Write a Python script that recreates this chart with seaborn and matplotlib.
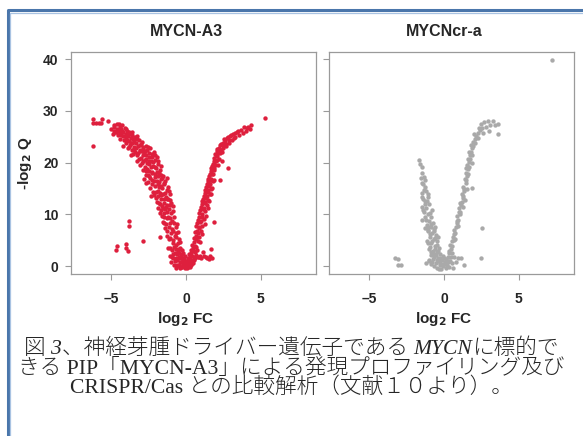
import numpy as np
import matplotlib
matplotlib.use("Agg")
import matplotlib.pyplot as plt
import seaborn as sns
import pandas as pd
from matplotlib.lines import Line2D

sns.set_style("ticks")
plt.rcParams["font.family"] = ["Liberation Sans", "DejaVu Sans"]

# MYCN-A3 (log2 FC, -log2 Q)
a3_left = [
    (-5.0, 26.5), (-4.9, 25.6), (-4.85, 26.9), (-4.8, 26.2), (-4.8, 27.2), (-4.7, 25.9), (-4.65, 26.6),
    (-4.6, 27.5), (-4.55, 25.3), (-4.5, 26.1), (-4.45, 27.0), (-4.4, 24.6), (-4.4, 25.8), (-4.35, 26.6),
    (-4.3, 27.3), (-4.25, 25.2), (-4.2, 26.0), (-4.2, 23.2), (-4.15, 24.3), (-4.1, 26.8), (-4.05, 25.5),
    (-4.0, 23.9), (-4.0, 24.9), (-3.95, 26.1), (-3.9, 22.8), (-3.9, 25.2), (-3.85, 24.2), (-3.8, 26.0),
    (-3.75, 23.5), (-3.7, 24.8), (-3.7, 21.5), (-3.65, 22.4), (-3.6, 25.4), (-3.6, 23.9), (-3.55, 21.7),
    (-3.5, 24.5), (-3.45, 23.1), (-3.4, 25.0), (-3.4, 22.0), (-3.35, 23.8), (-3.3, 24.6), (-3.3, 20.4),
    (-3.25, 21.4), (-3.2, 23.2), (-3.15, 24.3), (-3.1, 22.5), (-3.05, 19.6), (-3.0, 23.7), (-3.0, 21.0),
    (-2.95, 22.3), (-2.9, 18.6), (-2.9, 23.0), (-2.85, 20.4), (-2.8, 21.8), (-2.8, 16.8), (-2.75, 19.2),
    (-2.7, 23.3), (-2.7, 17.6), (-2.65, 20.8), (-2.65, 16.0), (-2.6, 22.4), (-2.6, 18.8), (-2.55, 16.2),
    (-2.5, 21.2), (-2.5, 19.8), (-2.45, 17.4), (-2.4, 22.8), (-2.4, 15.2), (-2.35, 20.3), (-2.35, 13.5),
    (-2.3, 18.3), (-2.3, 21.6), (-2.25, 16.7), (-2.2, 19.4), (-2.2, 14.4), (-2.15, 22.0), (-2.1, 17.8),
    (-2.1, 20.6), (-2.05, 15.6), (-2.0, 18.9), (-2.0, 13.1), (-1.95, 21.1), (-1.95, 16.4), (-1.9, 14.6),
    (-1.9, 19.7), (-1.85, 17.4), (-1.85, 11.2), (-1.8, 12.2), (-1.8, 15.4), (-1.75, 18.6), (-1.75, 10.3),
    (-1.7, 13.8), (-1.7, 16.8), (-1.65, 19.4), (-1.6, 11.6), (-1.6, 15.1), (-1.55, 8.6), (-1.55, 17.5),
    (-1.5, 13.0), (-1.5, 10.2), (-1.45, 16.0), (-1.4, 7.4), (-1.4, 14.2), (-1.35, 11.4), (-1.3, 17.0),
    (-1.3, 5.8), (-1.25, 9.3), (-1.25, 12.9), (-1.2, 15.4), (-1.2, 3.6), (-1.15, 7.6), (-1.15, 11.0),
    (-1.1, 13.9), (-1.1, 1.9), (-1.05, 5.4), (-1.05, 9.4), (-1.0, 12.3), (-1.0, 0.8), (-0.95, 7.1),
    (-0.95, 3.2), (-0.9, 10.6), (-0.9, 1.6), (-0.85, 5.0), (-0.8, 8.4), (-0.8, 0.3), (-0.75, 2.6),
    (-0.7, 6.5), (-0.7, -0.3), (-0.65, 4.2), (-0.6, 1.2), (-0.6, 8.2), (-0.55, 2.9), (-0.5, 0.2),
    (-0.5, 5.3), (-0.45, 1.7), (-0.4, -0.4), (-0.4, 3.6), (-0.35, 0.8), (-0.3, 2.3), (-0.25, -0.1),
    (-0.2, 1.3), (-0.15, 0.4), (-0.1, 2.0), (-0.05, -0.2),
    (-4.75, 26.0), (-4.6, 26.2), (-4.5, 27.4), (-4.35, 25.3), (-4.3, 26.1), (-4.1, 25.1), (-4.05, 26.5),
    (-3.95, 24.4), (-3.85, 25.5), (-3.8, 23.0), (-3.7, 23.9), (-3.65, 25.9), (-3.55, 24.6), (-3.5, 22.6),
    (-3.45, 24.0), (-3.35, 22.8), (-3.25, 25.1), (-3.2, 21.9), (-3.15, 20.7), (-3.1, 23.5), (-3.05, 22.2),
    (-2.95, 24.1), (-2.95, 20.0), (-2.9, 21.5), (-2.85, 22.6), (-2.75, 20.6), (-2.75, 22.3), (-2.7, 18.4),
    (-2.65, 21.5), (-2.6, 20.0), (-2.55, 23.0), (-2.55, 17.6), (-2.5, 18.4), (-2.45, 21.9), (-2.45, 20.4),
    (-2.4, 17.0), (-2.35, 19.2), (-2.3, 15.8), (-2.25, 21.2), (-2.25, 18.0), (-2.2, 20.2), (-2.15, 16.4),
    (-2.15, 13.8), (-2.1, 19.2), (-2.05, 21.4), (-2.05, 17.2), (-2.0, 14.4), (-1.95, 18.2), (-1.95, 12.5),
    (-1.9, 20.4), (-1.9, 15.9), (-1.85, 13.6), (-1.8, 18.0), (-1.8, 16.2), (-1.75, 14.2), (-1.75, 12.0),
    (-1.7, 17.6), (-1.7, 10.8), (-1.65, 15.6), (-1.65, 13.0), (-1.6, 9.8), (-1.6, 17.0), (-1.55, 14.0),
    (-1.55, 11.2), (-1.5, 15.8), (-1.5, 8.4), (-1.45, 12.2), (-1.45, 9.6), (-1.4, 16.4), (-1.4, 11.0),
    (-1.35, 13.4), (-1.35, 8.2), (-1.3, 10.4), (-1.3, 14.8), (-1.25, 6.8), (-1.25, 11.8), (-1.2, 9.6),
    (-1.2, 13.0), (-1.15, 5.2), (-1.15, 14.6), (-1.1, 8.4), (-1.1, 11.8), (-1.05, 3.6), (-1.05, 12.8),
    (-1.0, 6.4), (-1.0, 10.2), (-0.95, 8.8), (-0.95, 1.8), (-0.9, 4.4), (-0.9, 11.6), (-0.85, 6.8),
    (-0.85, 2.4), (-0.8, 9.6), (-0.8, 3.8), (-0.75, 5.8), (-0.75, 1.0), (-0.7, 7.6), (-0.7, 3.4),
    (-0.65, 1.6), (-0.65, 5.6), (-0.6, 2.4), (-0.6, 0.2), (-0.55, 4.4), (-0.55, 6.6), (-0.5, 1.6),
    (-0.5, 3.4), (-0.45, 0.0), (-0.45, 2.6), (-0.4, 0.9), (-0.4, 4.6), (-0.35, 1.9), (-0.35, -0.2),
    (-0.3, 0.9), (-0.3, 3.2), (-0.25, 1.6), (-0.2, 0.2), (-0.2, 2.6), (-0.15, 1.4), (-0.1, 0.6),
    (-0.1, -0.4), (-0.05, 1.1),
]
a3_right = [
    (0.0, 0.9), (0.05, -0.3), (0.1, 1.6), (0.15, 0.2), (0.2, 2.4), (0.2, 0.9), (0.25, -0.1), (0.3, 3.1),
    (0.3, 1.3), (0.35, 0.3), (0.4, 4.2), (0.4, 2.0), (0.45, 0.7), (0.5, 5.4), (0.5, 3.0), (0.55, 1.2),
    (0.6, 6.6), (0.6, 4.0), (0.6, 1.6), (0.65, 2.2), (0.7, 7.7), (0.7, 5.3), (0.75, 3.2), (0.8, 9.0),
    (0.8, 6.4), (0.8, 1.8), (0.85, 1.7), (0.9, 10.2), (0.9, 7.6), (0.95, 4.6), (1.0, 11.4), (1.0, 8.8),
    (1.0, 1.5), (1.05, 6.2), (1.1, 12.6), (1.1, 10.0), (1.15, 2.8), (1.2, 13.6), (1.2, 11.2), (1.2, 1.9),
    (1.25, 8.2), (1.3, 14.8), (1.3, 12.4), (1.35, 9.8), (1.4, 15.8), (1.4, 13.6), (1.4, 1.6), (1.45, 11.2),
    (1.5, 16.8), (1.5, 14.7), (1.55, 12.6), (1.6, 17.9), (1.6, 15.9), (1.6, 16.7), (1.6, 1.9), (1.65, 13.9),
    (1.65, 3.4), (1.7, 18.9), (1.7, 16.9), (1.75, 15.2), (1.75, 1.6), (1.8, 19.8), (1.8, 17.9), (1.85, 20.9),
    (1.85, 8.6), (1.9, 19.0), (1.9, 16.7), (1.95, 21.6), (2.0, 20.3), (2.05, 22.2), (2.1, 21.3), (2.15, 19.5),
    (2.2, 22.9), (2.25, 21.8), (2.3, 23.4), (2.3, 16.6), (2.35, 22.4), (2.4, 20.4), (2.45, 23.9), (2.5, 22.8),
    (2.6, 24.2), (2.65, 23.3), (2.75, 24.7), (2.8, 18.9), (2.85, 23.8), (2.95, 25.1), (3.05, 24.4),
    (3.15, 25.5), (3.3, 25.0), (3.4, 25.9), (3.55, 25.4), (3.7, 26.3), (3.85, 26.9), (4.0, 26.1),
    (4.15, 27.0), (4.35, 27.3), (5.3, 28.6),
    (0.05, 0.4), (0.1, -0.2), (0.15, 1.2), (0.25, 1.7), (0.3, 0.5), (0.35, 2.5), (0.4, 0.9), (0.45, 3.6),
    (0.5, 1.8), (0.55, 4.6), (0.6, 2.8), (0.65, 5.9), (0.7, 3.8), (0.75, 6.8), (0.75, 8.4), (0.8, 4.8),
    (0.85, 7.4), (0.85, 9.6), (0.9, 5.6), (0.95, 8.6), (0.95, 10.8), (1.0, 6.8), (1.05, 9.6), (1.05, 12.0),
    (1.1, 7.8), (1.15, 11.0), (1.15, 13.0), (1.2, 9.2), (1.25, 12.2), (1.25, 14.2), (1.3, 10.6),
    (1.35, 13.2), (1.35, 15.4), (1.4, 11.8), (1.45, 14.4), (1.45, 16.4), (1.5, 12.8), (1.55, 15.6),
    (1.55, 17.4), (1.6, 14.0), (1.65, 16.6), (1.65, 18.4), (1.7, 15.0), (1.75, 17.8), (1.75, 19.4),
    (1.8, 16.4), (1.85, 18.6), (1.85, 19.8), (1.9, 20.4), (1.95, 19.6), (2.0, 21.4), (2.05, 20.6),
    (2.1, 22.6), (2.15, 21.8), (2.2, 20.8), (2.25, 22.4), (2.35, 23.6), (2.4, 22.0), (2.5, 23.4),
    (2.55, 24.6), (2.7, 23.6), (2.8, 25.0), (2.9, 24.4), (3.0, 25.4), (3.2, 24.8), (3.25, 25.8),
    (3.5, 26.2), (3.8, 25.8), (4.05, 26.8), (4.3, 26.6), (0.95, 2.0), (1.35, 1.8), (1.55, 1.4),
]
a3_outliers = [
    (-6.2, 23.2), (-6.2, 28.5), (-6.2, 27.7), (-6.0, 27.7), (-5.8, 27.7), (-5.7, 27.6), (-5.6, 28.5),
    (-5.2, 28.0), (-3.8, 8.7), (-3.8, 7.8), (-2.85, 4.8), (-4.65, 3.9), (-4.7, 3.2), (-4.05, 4.3),
    (-4.0, 3.6), (-3.9, 3.0), (-1.75, 5.7),
]

# MYCNcr-a
cr_left = [
    (-1.7, 20.5), (-1.48, 19.2), (-1.5, 18.0), (-1.37, 17.3), (-1.3, 16.6), (-1.45, 16.0), (-1.26, 15.3),
    (-1.35, 14.8), (-1.5, 14.2), (-1.1, 14.0), (-1.48, 13.4), (-1.04, 13.4), (-1.3, 12.7), (-1.15, 12.6),
    (-1.0, 12.0), (-1.48, 11.5), (-1.2, 11.2), (-0.82, 10.8), (-1.35, 10.4), (-1.1, 10.0), (-0.85, 9.6),
    (-1.26, 9.5), (-1.45, 9.0), (-1.0, 8.8), (-0.75, 8.4), (-1.15, 8.0), (-0.6, 7.6), (-1.3, 7.4),
    (-0.9, 7.6), (-1.04, 7.0), (-0.65, 7.2), (-1.05, 6.8), (-0.8, 6.4), (-0.55, 6.0), (-0.38, 5.7),
    (-0.95, 5.6), (-0.7, 5.2), (-0.45, 4.8), (-1.15, 4.8), (-0.85, 4.4), (-1.04, 4.4), (-0.6, 4.0),
    (-0.35, 3.6), (-0.6, 3.4), (-1.0, 3.3), (-0.75, 3.0), (-0.5, 2.7), (-0.25, 2.4), (-0.7, 2.4),
    (-0.9, 2.1), (-0.1, 2.0), (-0.65, 1.8), (-0.4, 1.5), (-0.15, 1.2), (-1.0, 1.3), (-0.35, 1.0),
    (-1.0, 1.0), (-0.8, 0.9), (-0.55, 0.6), (-1.2, 0.6), (-0.3, 0.3), (-0.05, 0.0), (-0.45, -0.3),
    (-0.2, -0.5),
    (-1.6, 19.8), (-1.55, 17.0), (-1.42, 15.8), (-1.2, 14.6), (-1.4, 13.0), (-1.25, 12.0), (-1.4, 10.8),
    (-0.95, 10.2), (-1.2, 9.0), (-0.9, 8.2), (-1.1, 7.6), (-0.7, 6.8), (-0.95, 6.2), (-0.6, 5.4),
    (-0.8, 4.8), (-0.5, 4.2), (-0.95, 3.8), (-0.4, 3.0), (-0.85, 2.8), (-0.55, 2.2), (-0.3, 1.6),
    (-0.75, 1.4), (-0.5, 1.2), (-0.9, 0.4), (-0.65, 0.0), (-0.25, 0.7), (-0.1, 0.4), (-0.35, -0.6),
]
cr_right = [
    (0.1, 0.5), (0.25, 1.8), (0.3, 2.6), (0.45, 3.4), (0.4, 4.2), (0.55, 4.8), (0.6, 5.6), (0.7, 6.3),
    (0.65, 7.0), (0.8, 7.6), (0.85, 8.4), (0.95, 9.0), (0.9, 9.8), (1.05, 10.4), (1.0, 11.2), (1.15, 11.8),
    (1.2, 12.5), (1.3, 13.2), (1.2, 13.9), (1.35, 14.6), (1.3, 15.3), (1.45, 16.0), (1.4, 16.8),
    (1.55, 17.4), (1.5, 18.1), (1.6, 18.8), (1.55, 19.5), (1.7, 20.1), (1.6, 20.8), (1.75, 21.4),
    (1.7, 22.1), (1.85, 22.8), (1.8, 23.4), (1.95, 24.0), (2.05, 24.6), (2.15, 25.1), (2.3, 25.7),
    (2.4, 26.3), (0.5, 2.5), (0.75, 5.2), (0.95, 7.8), (1.1, 10.0), (1.25, 11.5), (1.4, 12.8),
    (1.55, 15.0), (1.45, 19.0), (1.88, 15.2), (1.85, 20.0), (1.9, 21.5), (0.0, 1.5), (0.2, 0.2),
    (0.35, 1.1), (0.6, -0.3), (0.45, 1.8),
    (0.35, 3.0), (0.5, 4.0), (0.65, 5.0), (0.75, 6.5), (0.9, 8.8), (1.0, 10.5), (1.1, 12.2), (1.25, 13.5),
    (1.35, 15.0), (1.5, 16.6), (1.6, 17.8), (1.65, 19.2), (1.75, 20.8), (1.8, 22.0), (1.95, 23.2),
    (2.1, 23.9), (2.25, 24.8), (2.0, 25.5), (2.35, 26.8), (0.05, 0.8), (0.15, 1.4), (0.25, 0.9),
    (0.3, -0.1), (0.5, 0.6), (0.8, 0.9), (0.1, -0.4),
    (2.45, 27.4), (2.55, 26.8), (2.7, 27.9), (2.8, 26.9), (2.95, 28.1), (3.1, 27.3), (3.25, 28.0),
    (3.4, 27.2), (3.6, 27.4), (3.6, 25.6), (3.0, 26.2), (2.6, 25.8),
]
cr_outliers = [
    (7.2, 39.8), (2.55, 7.4), (2.48, 1.5), (-3.25, 1.6), (-3.05, 1.4), (-3.1, 0.3), (-2.87, 0.3),
    (1.33, 0.3), (0.95, 1.5), (0.7, 1.8), (1.15, 1.6), (0.4, 1.0),
]

panels = ["MYCN-A3", "MYCNcr-a"]
colors = ["#de1f3d", "#a9a9a9"]
x_ticks = [-5, 0, 5]
y_ticks = [0, 10, 20, 30, 40]

W, H = 583, 436
fig = plt.figure(figsize=(W / 100, H / 100), dpi=100)

def px(x0, y0, x1, y1):
    return [x0 / W, 1 - y1 / H, (x1 - x0) / W, (y1 - y0) / H]

ax1 = fig.add_axes(px(71, 52, 316, 274))
ax2 = fig.add_axes(px(329, 52, 574, 274))

for ax, pts, col in [(ax1, a3_left + a3_right + a3_outliers, colors[0]),
                     (ax2, cr_left + cr_right + cr_outliers, colors[1])]:
    df = pd.DataFrame(pts, columns=["fc", "q"])
    sns.scatterplot(data=df, x="fc", y="q", ax=ax, color=col, s=10, linewidth=0)
    ax.set_xlim(-7.7, 8.7)
    ax.set_ylim(-1.5, 41.4)
    ax.set_xticks(x_ticks)
    ax.set_yticks(y_ticks)
    ax.set_xticklabels(["\u2013" + "5", "0", "5"])
    ax.set_xlabel("")
    ax.set_ylabel("")
    for sp in ax.spines.values():
        sp.set_color("#9a9a9a")
        sp.set_linewidth(0.9)
    ax.tick_params(direction="out", length=4, width=0.8, color="#9a9a9a", labelsize=10)
    ax.tick_params(axis="x", pad=9)
    ax.tick_params(axis="y", pad=5)
    for lab in ax.get_xticklabels() + ax.get_yticklabels():
        lab.set_fontweight("bold")

ax2.set_yticklabels([])

# titles and axis labels
for cx, name in [(186, panels[0]), (444, panels[1])]:
    fig.text(cx / W, 1 - 32 / H, name, ha="center", va="center", fontsize=11.5, fontweight="bold")
    fig.text(cx / W, 1 - 319 / H, r"log$_\mathbf{2}$ FC", ha="center", va="center",
             fontsize=11, fontweight="bold")
fig.text(25 / W, 1 - 163 / H, r"-log$_\mathbf{2}$ Q", ha="center", va="center",
         fontsize=11, fontweight="bold", rotation=90)

# blue frame
fig.add_artist(Line2D([8 / W, 8 / W, 1], [0, 1 - 10.5 / H, 1 - 10.5 / H],
                      color="#4a76ab", lw=2.2, transform=fig.transFigure))
fig.add_artist(Line2D([10.3 / W, 10.3 / W, 1], [0, 1 - 12.8 / H, 1 - 12.8 / H],
                      color="#a9c3e2", lw=0.9, transform=fig.transFigure))

# caption
cap_fonts = ["Liberation Serif", "Noto Sans CJK JP"]
cap_lines = [
    [("図 3", "italic"), ("、神経芽腫ドライバー遺伝子である ", "normal"), ("MYCN", "italic"), ("に標的で", "normal")],
    [("きる PIP「MYCN-A3」による発現プロファイリング及び", "normal")],
    [("CRISPR/Cas との比較解析（文献１０より）。", "normal")],
]
cap_y = [349, 369, 388]
cap_size = 15.6

renderer = fig.canvas.get_renderer()
for runs, yy in zip(cap_lines, cap_y):
    items = []
    for s, st in runs:
        t = fig.text(0, 1 - yy / H, s, fontsize=cap_size, style=st, family=cap_fonts,
                     fontweight="light", va="center", ha="left")
        items.append((t, t.get_window_extent(renderer).width))
    total = sum(w for _, w in items)
    x = W / 2 - total / 2
    for t, w in items:
        t.set_x(x / W)
        x += w

fig.savefig("out.png", dpi=100)
